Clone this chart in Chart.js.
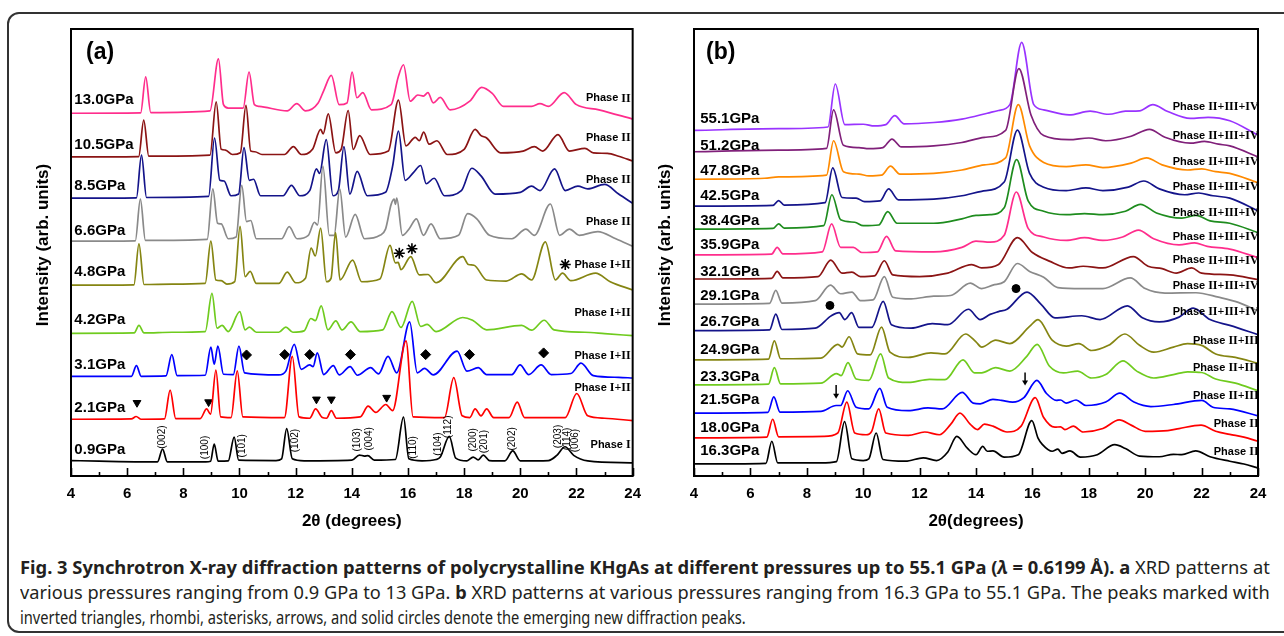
<!DOCTYPE html>
<html lang="en">
<head>
<meta charset="UTF-8">
<title>Fig. 3 XRD patterns of KHgAs</title>
<script src="https://cdn.jsdelivr.net/npm/chart.js@4.4.9/dist/chart.umd.min.js"></script>
<style>
    body { margin: 0; background: #fff; width: 1284px; height: 636px; overflow: hidden; position: relative; }
    .frame { position: absolute; left: 7px; top: 12px; width: 1300px; height: 617px; border: 2px solid #333; border-radius: 12px; }
    canvas { position: absolute; top: 0; }
    #chartA { left: 0; }
    #chartB { left: 650px; }
    .cap { position: absolute; left: 20px; white-space: nowrap; font-family: "Noto Sans", sans-serif; font-size: 18.5px; color: #231f20; transform-origin: 0 50%; line-height: 22px; }
    .cap b { font-weight: 700; }
</style>
</head>
<body>
<div class="frame"></div>
<canvas id="chartA" width="650" height="540"></canvas>
<canvas id="chartB" width="634" height="540"></canvas>
<div class="cap" id="cap1" data-w="1250" style="top:556px"><b>Fig. 3 Synchrotron X-ray diffraction patterns of polycrystalline KHgAs at different pressures up to 55.1 GPa (<i>λ</i> = 0.6199 Å). a</b> XRD patterns at</div>
<div class="cap" id="cap2" data-w="1250" style="top:581px">various pressures ranging from 0.9 GPa to 13 GPa. <b>b</b> XRD patterns at various pressures ranging from 16.3 GPa to 55.1 GPa. The peaks marked with</div>
<div class="cap" id="cap3" data-w="726" style="top:606px">inverted triangles, rhombi, asterisks, arrows, and solid circles denote the emerging new diffraction peaks.</div>

<script>
    // ---- panel (a): 2theta (deg), stacked intensity (arb. units) ----
    const pressuresA = ['0.9GPa', '2.1GPa', '3.1GPa', '4.2GPa', '4.8GPa', '6.6GPa', '8.5GPa', '10.5GPa', '13.0GPa']
    const phasesA = ['Phase I', 'Phase I+II', 'Phase I+II', 'Phase I+II', 'Phase I+II', 'Phase II', 'Phase II', 'Phase II', 'Phase II']

    const a09 = [[4,45],[5,43],[6.5,41],[7.08,41],[7.26,78],[7.43,41],[8.8,41],[8.97,43],[9.1,93],[9.24,43],[9.6,44],[9.81,113],[9.97,46],[11.3,45],[11.5,50],[11.68,138],[11.88,50],[12.3,44],[14.0,46],[14.27,61],[14.45,58],[14.57,59],[14.8,46],[15.55,48],[15.84,171],[16.03,50],[16.5,44],[17.0,48],[17.15,55],[17.47,115],[17.7,52],[18.1,44],[18.32,55],[18.5,47],[18.68,61],[18.9,45],[19.45,44],[19.73,73],[20.0,44],[21.0,45],[21.3,60],[21.59,85],[21.9,60],[22.4,44],[24,38]]
    const a21 = [[4,165],[6.15,166],[6.32,173],[6.5,165],[7.33,166],[7.53,250],[7.73,167],[8.6,167],[8.83,195],[8.97,180],[9.16,308],[9.33,172],[9.7,170],[9.92,306],[10.12,172],[11.6,170],[11.88,348],[12.12,172],[12.5,168],[12.71,195],[12.95,170],[13.1,168],[13.27,190],[13.45,168],[14.3,172],[14.58,203],[14.85,185],[15.21,208],[15.45,190],[15.93,393],[16.18,172],[17.3,170],[17.63,286],[17.93,175],[18.2,170],[18.39,195],[18.6,175],[18.8,195],[19.05,170],[19.6,170],[19.89,215],[20.15,170],[21.6,170],[22.01,240],[22.4,175],[23,168],[24,161]]
    const a31 = [[4,290],[6.15,290],[6.33,321],[6.5,290],[7.38,291],[7.59,353],[7.78,292],[8.78,293],[8.98,375],[9.1,325],[9.23,378],[9.43,296],[9.78,295],[9.98,378],[10.18,300],[11.4,294],[11.65,305],[11.95,383],[12.2,310],[12.5,323],[12.62,318],[12.77,358],[13.0,295],[13.34,321],[13.55,294],[13.94,318],[14.2,293],[14.67,315],[14.95,297],[15.29,348],[15.6,300],[16.06,448],[16.33,300],[16.59,313],[16.9,294],[17.75,363],[18.1,305],[18.5,315],[18.8,295],[19.7,295],[19.99,323],[20.3,295],[20.74,323],[21.1,295],[21.8,298],[22.16,328],[22.6,292],[23.5,287],[24,285]]
    const a42 = [[4,415],[6.25,416],[6.42,438],[6.6,416],[7.6,418],[8.78,420],[9.02,531],[9.2,430],[9.38,438],[9.6,420],[10.01,478],[10.2,425],[10.35,433],[10.6,418],[11.4,418],[11.65,433],[11.9,418],[12.3,422],[12.54,458],[12.7,452],[12.91,495],[13.15,425],[13.43,451],[13.65,425],[13.97,448],[14.3,420],[15.1,425],[15.43,478],[15.75,432],[16.15,508],[16.45,435],[16.68,441],[17.0,420],[17.95,461],[18.3,453],[18.8,425],[20.05,438],[20.4,424],[20.85,453],[21.2,425],[22.3,418],[23,414],[24,408]]
    const a48 = [[4,555],[6.24,556],[6.42,675],[6.6,557],[7.6,558],[8.78,560],[8.98,683],[9.16,570],[9.35,568],[9.55,558],[9.83,565],[10.02,726],[10.2,580],[10.38,595],[10.6,560],[11.4,560],[11.7,593],[12.0,562],[12.35,575],[12.55,663],[12.7,640],[12.89,721],[13.1,565],[13.26,575],[13.42,708],[13.58,570],[14.03,628],[14.35,565],[15.0,573],[15.36,671],[15.55,620],[15.65,621],[15.75,600],[16.1,638],[16.4,585],[16.71,586],[17.0,562],[17.95,638],[18.15,615],[18.35,613],[18.8,570],[19.5,567],[20.05,588],[20.4,570],[20.89,681],[21.25,570],[21.5,590],[21.8,568],[22.68,590],[23.2,565],[24,541]]
    const a66 = [[4,683],[6.29,684],[6.47,805],[6.65,685],[8.85,688],[9.05,835],[9.22,735],[9.35,733],[9.6,690],[9.88,695],[10.08,845],[10.25,740],[10.4,743],[10.6,690],[11.5,690],[11.77,725],[12.05,690],[12.45,700],[12.67,738],[12.78,730],[12.97,901],[13.2,700],[13.37,700],[13.57,835],[13.78,695],[14.12,761],[14.45,690],[15.0,700],[15.2,718],[15.4,790],[15.51,805],[15.55,790],[15.6,808],[15.8,700],[16.05,720],[16.3,748],[16.55,700],[16.82,733],[17.15,690],[17.8,700],[18.12,763],[18.45,748],[18.9,700],[19.7,690],[20.2,718],[20.5,700],[21.07,791],[21.4,700],[21.75,718],[22.1,700],[22.76,711],[23.4,690],[24,668]]
    const a85 = [[4,808],[6.33,809],[6.51,933],[6.69,810],[8.9,813],[9.11,983],[9.3,860],[9.45,858],[9.7,815],[9.97,820],[10.16,955],[10.35,860],[10.5,863],[10.75,815],[11.55,815],[11.85,845],[12.15,815],[12.5,830],[12.74,893],[12.85,880],[13.09,978],[13.33,815],[13.52,830],[13.72,958],[13.93,820],[14.19,886],[14.55,815],[15.2,825],[15.45,900],[15.66,1003],[15.9,860],[16.2,883],[16.45,903],[16.65,850],[16.93,866],[17.3,815],[17.9,830],[18.27,895],[18.6,873],[19.1,820],[20.0,825],[20.4,843],[20.7,830],[21.22,893],[21.6,830],[22.05,843],[22.4,835],[23.0,848],[23.5,820],[24,793]]
    const a105 = [[4,928],[6.41,929],[6.59,1035],[6.77,930],[8.95,933],[9.17,1088],[9.35,950],[9.5,948],[9.75,935],[10.03,940],[10.23,1078],[10.4,945],[10.55,943],[10.8,935],[11.6,935],[11.92,958],[12.2,935],[12.6,950],[12.89,1008],[12.98,995],[13.16,1053],[13.43,940],[13.62,950],[13.87,1063],[14.05,950],[14.28,990],[14.65,935],[15.3,945],[15.66,1093],[15.93,960],[16.26,985],[16.4,975],[16.56,1000],[16.75,965],[17.03,975],[17.4,935],[18.0,950],[18.39,1008],[18.6,990],[18.8,983],[19.3,940],[20.1,945],[20.5,958],[20.8,945],[21.34,993],[21.75,945],[22.3,953],[22.6,940],[23.1,938],[23.5,930],[24,916]]
    const a130 = [[4,1055],[6.48,1056],[6.66,1161],[6.84,1057],[8.95,1062],[9.25,1213],[9.43,1080],[9.6,1070],[10.13,1070],[10.34,1175],[10.53,1080],[10.7,1075],[11.7,1062],[12.04,1083],[12.35,1062],[12.8,1085],[13.0,1121],[13.27,1165],[13.55,1080],[13.83,1085],[14.01,1175],[14.18,1100],[14.39,1115],[14.7,1065],[15.4,1080],[15.65,1160],[15.84,1196],[16.08,1090],[16.35,1108],[16.55,1105],[16.71,1115],[16.9,1085],[17.15,1101],[17.5,1065],[18.2,1090],[18.62,1130],[19.0,1113],[19.4,1075],[20.4,1075],[20.7,1083],[21.0,1075],[21.56,1115],[22.0,1080],[22.8,1065],[24,1038]]

    // new-peak markers in (a)
    const trianglesA = [[6.35,213],[8.9,215],[12.74,223],[13.27,223],[15.24,228]]
    const diamondsA = [[10.25,352],[11.61,353],[12.5,353],[13.95,353],[16.63,353],[18.19,353],[20.83,358]]
    const asterisksA = [[15.69,648],[16.14,661],[21.6,615]]
    // Miller indices of phase I
    const hklA = ['(002)', '(100)', '(101)', '(102)', '(103)', '(004)', '(110)', '(104)', '(112)', '(200)', '(201)', '(202)', '(203)', '(114)', '(006)']
    const hklPosA = [[7.26,113],[8.78,83],[10.1,88],[12.0,103],[14.21,105],[14.61,108],[16.18,83],[17.08,93],[17.45,143],[18.32,105],[18.72,100],[19.73,108],[21.34,115],[21.67,108],[21.97,103]]

    // ---- panel (b) ----
    const pressuresB = ['16.3GPa', '18.0GPa', '21.5GPa', '23.3GPa', '24.9GPa', '26.7GPa', '29.1GPa', '32.1GPa', '35.9GPa', '38.4GPa', '42.5GPa', '47.8GPa', '51.2GPa', '55.1GPa']
    const phasesB = ['Phase II', 'Phase II', 'Phase II+III', 'Phase II+III', 'Phase II+III', 'Phase II+III+IV', 'Phase II+III+IV', 'Phase II+III+IV', 'Phase II+III+IV', 'Phase II+III+IV', 'Phase II+III+IV', 'Phase II+III+IV', 'Phase II+III+IV', 'Phase II+III+IV']

    const b163 = [[4,35],[6.55,37],[6.76,101],[6.97,38],[8.5,38],[9.05,42],[9.34,158],[9.6,50],[10.0,45],[10.2,50],[10.46,125],[10.7,48],[11.5,43],[12.13,53],[12.6,45],[13.0,70],[13.32,115],[13.7,80],[14.0,62],[14.24,86],[14.4,72],[14.6,73],[15.0,55],[15.5,62],[15.98,161],[16.2,110],[16.35,92],[16.7,72],[16.9,78],[17.05,66],[17.33,73],[17.7,55],[18.3,62],[18.92,91],[19.3,80],[19.8,58],[20.5,56],[21.0,63],[21.3,62],[21.79,73],[22.3,56],[23.0,43],[23.5,35],[24,23]]
    const b180 = [[4,111],[6.58,113],[6.79,165],[7.0,114],[8.6,115],[9.1,125],[9.42,215],[9.7,125],[10.1,120],[10.3,130],[10.55,195],[10.8,125],[11.6,118],[12.18,128],[12.7,120],[13.1,150],[13.43,183],[13.8,150],[14.05,135],[14.3,151],[14.6,145],[15.1,128],[15.6,145],[16.1,228],[16.4,170],[16.8,142],[17.0,143],[17.15,135],[17.45,145],[17.8,128],[18.5,138],[19.08,163],[19.5,148],[20.0,130],[20.8,132],[21.2,138],[21.98,148],[22.5,130],[23.0,121],[23.5,113],[24,101]]
    const b215 = [[4,183],[6.62,185],[6.83,230],[7.05,186],[8.5,188],[9.04,205],[9.2,205],[9.45,248],[9.75,200],[10.2,195],[10.59,255],[10.85,200],[11.6,190],[12.3,198],[12.8,195],[13.51,243],[13.9,212],[14.15,210],[14.6,223],[14.9,220],[15.3,215],[15.7,228],[16.16,278],[16.5,240],[16.85,220],[17.0,221],[17.2,212],[17.55,221],[17.9,205],[18.6,215],[19.1,241],[19.6,215],[20.2,202],[21.0,208],[22.01,220],[22.4,200],[23.0,195],[24,175]]
    const b233 = [[4,265],[6.64,267],[6.85,315],[7.07,268],[8.5,270],[9.05,298],[9.22,292],[9.46,330],[9.75,282],[10.2,278],[10.62,355],[10.9,285],[11.6,272],[12.35,281],[12.9,280],[13.54,338],[13.95,300],[14.2,300],[14.7,315],[15.2,305],[15.8,348],[16.17,383],[16.6,320],[17.1,300],[17.6,305],[18.1,285],[18.6,295],[19.21,335],[19.7,305],[20.3,285],[21.0,295],[21.5,303],[22.0,301],[22.5,282],[23.2,270],[24,248]]
    const b249 = [[4,338],[6.64,340],[6.85,393],[7.07,341],[8.5,343],[9.1,383],[9.25,375],[9.5,405],[9.8,355],[10.25,352],[10.65,433],[10.95,360],[11.6,345],[12.4,358],[12.9,355],[13.63,413],[14.0,390],[14.2,375],[14.7,395],[15.2,385],[15.9,435],[16.2,455],[16.7,395],[17.2,378],[17.65,385],[18.1,365],[18.7,380],[19.28,413],[19.8,380],[20.3,360],[21.0,375],[21.5,385],[22.0,380],[22.5,355],[23.2,345],[24,328]]
    const b267 = [[4,423],[6.68,425],[6.9,471],[7.12,426],[8.3,430],[8.85,465],[9.15,475],[9.35,455],[9.59,475],[9.85,432],[10.3,432],[10.71,508],[11.0,440],[11.7,430],[12.45,443],[13.0,440],[13.73,485],[14.15,455],[14.5,470],[14.8,478],[15.1,485],[15.81,535],[16.3,500],[16.8,460],[17.75,466],[18.4,455],[19.37,495],[19.9,460],[20.5,448],[21.2,462],[21.7,488],[22.3,455],[23.0,438],[24,411]]
    const b291 = [[4,500],[6.68,502],[6.9,540],[7.12,503],[8.3,510],[8.84,555],[9.2,530],[9.6,535],[9.9,510],[10.35,512],[10.75,580],[11.05,520],[11.7,515],[12.5,523],[13.1,525],[13.8,561],[14.2,545],[14.6,555],[15.0,565],[15.47,618],[15.9,595],[16.4,578],[16.9,548],[17.75,545],[18.5,545],[19.47,576],[20.0,545],[20.7,532],[21.8,533],[22.6,520],[23.3,505],[24,480]]
    const b321 = [[4,573],[6.75,575],[6.95,595],[7.15,576],[8.4,580],[8.85,628],[9.25,590],[9.6,593],[9.9,580],[10.4,582],[10.75,626],[11.05,585],[12.0,580],[13.0,590],[13.85,615],[14.2,605],[14.8,615],[15.47,693],[16.0,650],[16.6,625],[17.3,605],[17.8,610],[18.5,605],[19.58,638],[20.1,610],[20.6,603],[21.1,590],[21.65,605],[22.0,590],[23.0,585],[24,571]]
    const b359 = [[4,643],[6.75,645],[6.95,665],[7.15,646],[8.55,652],[8.88,733],[9.2,665],[9.65,665],[9.95,650],[10.5,652],[10.83,697],[11.15,655],[12.5,652],[13.5,665],[14.0,683],[14.5,680],[15.0,700],[15.43,826],[15.85,720],[16.4,695],[17.2,685],[17.85,693],[18.5,685],[19.2,695],[19.76,715],[20.3,690],[21.2,672],[21.75,678],[22.2,668],[23.0,660],[24,635]]
    const b384 = [[4,718],[6.8,720],[7.0,733],[7.2,721],[8.6,728],[8.89,818],[9.2,745],[9.7,738],[10.0,728],[10.55,730],[10.87,769],[11.2,735],[12.5,735],[13.5,748],[14.0,758],[14.5,760],[15.0,780],[15.44,920],[15.85,800],[16.4,770],[17.2,760],[17.85,763],[18.5,760],[19.3,770],[19.83,790],[20.4,765],[21.3,750],[21.8,758],[22.3,742],[23.0,735],[24,708]]
    const b425 = [[4,785],[6.8,787],[7.0,801],[7.2,788],[8.65,795],[8.92,896],[9.25,810],[9.75,808],[10.05,798],[10.6,800],[10.9,835],[11.25,803],[12.5,805],[13.5,815],[14.2,828],[15.0,855],[15.47,1006],[15.9,880],[16.4,840],[17.2,830],[17.9,838],[18.5,830],[19.4,840],[19.95,858],[20.5,835],[21.4,818],[21.9,823],[22.4,815],[23.0,808],[24,771]]
    const b478 = [[4,863],[6.5,866],[7.0,870],[8.7,875],[8.95,975],[9.3,885],[9.85,878],[10.2,873],[10.65,875],[10.97,901],[11.3,878],[12.5,880],[13.5,890],[14.3,905],[15.05,925],[15.5,1080],[15.9,960],[16.4,912],[17.2,900],[17.9,905],[18.5,897],[19.5,910],[20.05,925],[20.6,905],[21.5,890],[22.0,893],[22.5,885],[23.0,880],[24,853]]
    const b512 = [[4,943],[7.0,948],[8.7,953],[8.95,1065],[9.3,962],[9.85,955],[10.2,952],[10.7,955],[11.02,980],[11.35,957],[12.5,960],[13.5,970],[14.3,985],[15.05,1005],[15.52,1185],[15.95,1050],[16.4,990],[17.3,978],[18.0,983],[18.6,975],[19.5,988],[20.15,1008],[20.7,985],[21.6,968],[22.1,973],[22.6,965],[23.0,960],[24,928]]
    const b551 = [[4,1005],[7.0,1010],[8.75,1015],[9.01,1140],[9.35,1022],[10.0,1023],[10.4,1018],[10.8,1022],[11.12,1048],[11.45,1024],[12.5,1028],[13.5,1038],[14.4,1055],[14.8,1063],[15.2,1080],[15.62,1261],[16.05,1080],[16.4,1065],[17.3,1050],[18.05,1061],[18.7,1052],[19.3,1061],[19.8,1062],[20.27,1080],[20.8,1060],[21.6,1040],[22.23,1043],[23.0,1033],[24,991]]

    // new-peak markers in (b)
    const dotsB = [[8.82,496],[15.42,545]]
    const arrowsB = [[9.04,265,225],[15.74,301,263]]   // x, top, tip

    // label anchors (2theta, intensity)
    const pressLabelYA = [76, 198, 323, 453, 593, 713, 843, 963, 1093]
    const phaseLabelYA = [91, 256, 348, 475, 615, 738, 861, 983, 1098]
    const pressLabelYB = [73, 141, 220, 288, 366, 448, 523, 595, 671, 741, 815, 886, 961, 1038]
    const phaseLabelYB = [71, 151, 233, 313, 393, 478, 553, 627, 695, 765, 840, 913, 990, 1073]

    const colorsA = ['#000000', '#ff0000', '#0000ff', '#6fcb1e', '#858512', '#8a8a8a', '#14148a', '#8b1414', '#ff2d8c']
    const colorsB = ['#000000', '#ff0000', '#0000ff', '#6fcb1e', '#858512', '#14148a', '#8a8a8a', '#8b1414', '#ff2d8c', '#1e8c1e', '#14148a', '#ff8a00', '#80207a', '#9933ff']

    const curvesA = [a09, a21, a31, a42, a48, a66, a85, a105, a130]
    const curvesB = [b163, b180, b215, b233, b249, b267, b291, b321, b359, b384, b425, b478, b512, b551]

    Chart.defaults.font.family = "'Liberation Sans', Arial, sans-serif"
    Chart.defaults.color = '#000'

    function toXY(arr) {
        return arr.map(function (p) { return { x: p[0], y: p[1] } })
    }

    function lineSets(curves, colors) {
        return curves.map(function (c, i) {
            return {
                type: 'line',
                data: toXY(c),
                borderColor: colors[i],
                borderWidth: 1.7,
                pointRadius: 0,
                fill: false,
                cubicInterpolationMode: 'monotone'
            }
        })
    }

    function markerSet(points, style, radius, rotation) {
        return {
            type: 'scatter',
            data: toXY(points),
            pointStyle: style,
            pointRadius: radius,
            rotation: rotation || 0,
            backgroundColor: '#000',
            borderColor: '#000',
            borderWidth: style === 'star' ? 1.6 : 1
        }
    }

    // phase text: "Phase" in sans, roman numerals in serif, right aligned
    function drawPhase(ctx, text, xr, yc) {
        var sp = text.indexOf(' ')
        var head = text.slice(0, sp + 1)
        var tail = text.slice(sp + 1)
        ctx.textBaseline = 'middle'
        ctx.textAlign = 'left'
        ctx.font = "bold 12px 'Liberation Serif', 'Times New Roman', serif"
        var wt = ctx.measureText(tail).width
        ctx.font = "bold 11px 'Liberation Sans', Arial, sans-serif"
        var wh = ctx.measureText(head).width
        ctx.fillText(head, xr - wt - wh, yc)
        ctx.font = "bold 12px 'Liberation Serif', 'Times New Roman', serif"
        ctx.fillText(tail, xr - wt, yc)
    }

    const decoPlugin = {
        id: 'deco',
        afterDraw(chart, args, o) {
            const ctx = chart.ctx
            const a = chart.chartArea
            const x = chart.scales.x
            const y = chart.scales.y
            ctx.save()
            ctx.strokeStyle = '#000'
            ctx.fillStyle = '#000'
            // frame
            ctx.lineWidth = 2
            ctx.strokeRect(a.left, a.top, a.right - a.left, a.bottom - a.top)
            // inward ticks
            ctx.lineWidth = 1.6
            for (let v = 4; v <= 24; v++) {
                const px = Math.round(x.getPixelForValue(v)) + 0.5
                const len = v % 2 === 0 ? 8 : 4
                ctx.beginPath()
                ctx.moveTo(px, a.bottom)
                ctx.lineTo(px, a.bottom - len)
                ctx.stroke()
            }
            // panel letter
            ctx.font = "bold 23px 'Liberation Sans', Arial, sans-serif"
            ctx.textAlign = 'left'
            ctx.textBaseline = 'middle'
            ctx.fillText(o.letter, a.left + o.letterDx, 53)
            // pressures
            ctx.font = "bold 15px 'Liberation Sans', Arial, sans-serif"
            o.pressures.forEach(function (t, i) {
                ctx.fillText(t, x.getPixelForValue(o.pressX), y.getPixelForValue(o.pressY[i]))
            })
            // phases
            o.phases.forEach(function (t, i) {
                drawPhase(ctx, t, x.getPixelForValue(o.phaseX), y.getPixelForValue(o.phaseY[i]))
            })
            // hkl indices
            if (o.hkl) {
                ctx.font = "10px 'Liberation Sans', Arial, sans-serif"
                ctx.textAlign = 'center'
                o.hkl.forEach(function (t, i) {
                    ctx.save()
                    ctx.translate(x.getPixelForValue(o.hklPos[i][0]), y.getPixelForValue(o.hklPos[i][1]))
                    ctx.rotate(-Math.PI / 2)
                    ctx.fillText(t, 0, 0)
                    ctx.restore()
                })
            }
            // arrows
            if (o.arrows) {
                ctx.lineWidth = 1.5
                o.arrows.forEach(function (ar) {
                    const px = x.getPixelForValue(ar[0])
                    const yt = y.getPixelForValue(ar[1])
                    const yb = y.getPixelForValue(ar[2])
                    ctx.beginPath()
                    ctx.moveTo(px, yt)
                    ctx.lineTo(px, yb - 4)
                    ctx.stroke()
                    ctx.beginPath()
                    ctx.moveTo(px - 3, yb - 5)
                    ctx.lineTo(px + 3, yb - 5)
                    ctx.lineTo(px, yb)
                    ctx.closePath()
                    ctx.fill()
                })
            }
            // axis titles
            ctx.font = "bold 17px 'Liberation Sans', Arial, sans-serif"
            ctx.textAlign = 'center'
            ctx.fillText(o.xTitle, (a.left + a.right) / 2, 521)
            ctx.save()
            ctx.translate(o.yTitleX, 245)
            ctx.rotate(-Math.PI / 2)
            ctx.fillText('Intensity (arb. units)', 0, 0)
            ctx.restore()
            ctx.restore()
        }
    }

    function makeChart(id, datasets, padLeft, padRight, deco) {
        return new Chart(document.getElementById(id), {
            data: { datasets: datasets },
            options: {
                responsive: false,
                animation: false,
                layout: { padding: { left: padLeft, right: padRight, top: 29, bottom: 0 } },
                plugins: { legend: { display: false }, tooltip: { enabled: false }, deco: deco },
                scales: {
                    x: {
                        type: 'linear',
                        min: 4,
                        max: 24,
                        border: { display: false },
                        grid: { display: false, drawTicks: false },
                        ticks: {
                            stepSize: 2,
                            padding: 9,
                            font: { size: 15, weight: 'bold' },
                            maxRotation: 0,
                            callback: function (v) { return v }
                        },
                        afterFit: function (s) { s.height = 64 }
                    },
                    y: { type: 'linear', min: 0, max: 1300, display: false }
                }
            },
            plugins: [decoPlugin]
        })
    }

    const setsA = lineSets(curvesA, colorsA).concat([
        markerSet(trianglesA, 'triangle', 4.5, 180),
        markerSet(diamondsA, 'rectRot', 5),
        markerSet(asterisksA, 'star', 5.5)
    ])
    const setsB = lineSets(curvesB, colorsB).concat([
        markerSet(dotsB, 'circle', 4)
    ])

    makeChart('chartA', setsA, 71, 14, {
        letter: '(a)', letterDx: 15,
        pressures: pressuresA, pressX: 4.12, pressY: pressLabelYA,
        phases: phasesA, phaseX: 23.93, phaseY: phaseLabelYA,
        hkl: hklA, hklPos: hklPosA,
        xTitle: '2\u03b8 (degrees)', yTitleX: 43
    })
    makeChart('chartB', setsB, 44, 26, {
        letter: '(b)', letterDx: 12,
        pressures: pressuresB, pressX: 4.22, pressY: pressLabelYB,
        phases: phasesB, phaseX: 24.02, phaseY: phaseLabelYB,
        arrows: arrowsB,
        xTitle: '2\u03b8(degrees)', yTitleX: 15
    })

    // squeeze caption lines to the width they take in the figure
    document.querySelectorAll('.cap').forEach(function (el) {
        var w = el.scrollWidth
        el.style.transform = 'scaleX(' + (Number(el.dataset.w) / w) + ')'
    })
</script>
</body>
</html>
